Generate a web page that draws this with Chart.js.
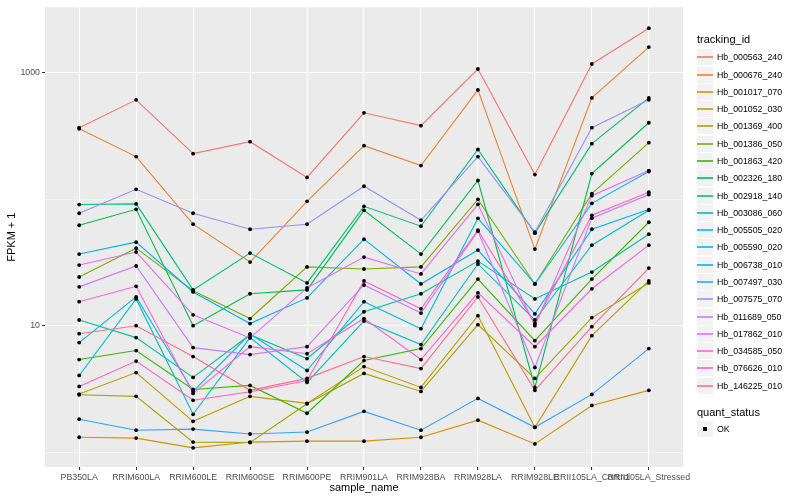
<!DOCTYPE html>
<html>
<head>
<meta charset="utf-8">
<script src="https://cdn.jsdelivr.net/npm/chart.js@4.4.0/dist/chart.umd.min.js"></script>
<style>
  html, body { margin: 0; padding: 0; background: #fff; }
  #wrap { position: relative; width: 800px; height: 500px; font-family: "Liberation Sans", Arial, sans-serif; }
  #chart1 { position: absolute; left: 0; top: 0; }
  .ttl { position: absolute; font-size: 11px; color: #000; white-space: nowrap; line-height: 12px; }
  .key { position: absolute; width: 16px; height: 16px; background: #F2F2F2; }
  .key i { position: absolute; left: 0; width: 16px; top: 7px; height: 2px; display: block; opacity: 0.8; }
  .lab { position: absolute; font-size: 8.8px; color: #000; white-space: nowrap; line-height: 10px; }
</style>
</head>
<body>
<div id="wrap">
  <canvas id="chart1" width="800" height="500"></canvas>
  <div id="legend"></div>
</div>
<script>
const samples = ["PB350LA", "RRIM600LA", "RRIM600LE", "RRIM600SE", "RRIM600PE", "RRIM901LA",
    "RRIM928BA", "RRIM928LA", "RRIM928LE", "RRII105LA_Control", "RRII105LA_Stressed"];

const trackingIds = ["Hb_000563_240", "Hb_000676_240", "Hb_001017_070", "Hb_001052_030", "Hb_001369_400",
    "Hb_001386_050", "Hb_001863_420", "Hb_002326_180", "Hb_002918_140", "Hb_003086_060",
    "Hb_005505_020", "Hb_005590_020", "Hb_006738_010", "Hb_007497_030", "Hb_007575_070",
    "Hb_011689_050", "Hb_017862_010", "Hb_034585_050", "Hb_076626_010", "Hb_146225_010"];

// FPKM + 1, one array per gene, in sample order
const hb000563 = [369, 613, 230, 286, 149, 484, 383, 1075, 157, 1178, 2262];
const hb000676 = [362, 218, 63.6, 31.9, 96.5, 266, 185, 735, 40.4, 635, 1603];
const hb001017 = [1.31, 1.29, 1.08, 1.2, 1.22, 1.22, 1.31, 1.79, 1.16, 2.34, 3.08];
const hb001052 = [2.88, 4.26, 1.75, 2.76, 2.43, 4.75, 3.25, 12.0, 1.57, 8.34, 22.6];
const hb001369 = [2.84, 2.76, 1.2, 1.19, 2.41, 4.19, 3.02, 10.2, 3.83, 11.6, 21.8];
const hb001386 = [24.3, 41.1, 18.9, 11.4, 29.2, 28.1, 29.2, 100, 21.4, 111, 281];
const hb001863 = [5.4, 6.36, 3.13, 3.37, 2.03, 5.3, 6.59, 23.4, 7.62, 23.4, 65.9];
const hb002326 = [62.4, 83.4, 10, 17.9, 19.2, 81.9, 36.9, 141, 3.25, 160, 404];
const hb002918 = [91, 92, 19.2, 37.6, 21.8, 88.1, 61.3, 248, 54, 276, 635];
const hb003086 = [11.1, 8.05, 3.9, 8.49, 5.5, 12.9, 17.9, 32.5, 16.3, 26.6, 53];
const hb005505 = [4.04, 16.3, 1.99, 8.05, 3.56, 10.9, 7.09, 30.8, 11.1, 43.4, 81.9];
const hb005590 = [7.35, 16.9, 3.02, 8.6, 4.42, 15.5, 9.47, 70.8, 21.4, 93, 166];
const hb006738 = [36.9, 45.8, 18.5, 10.4, 16.6, 48.4, 21.4, 39.7, 12.4, 58, 83];
const hb007497 = [1.82, 1.49, 1.52, 1.39, 1.44, 2.1, 1.49, 2.66, 1.57, 2.86, 6.59];
const hb007575 = [77.6, 120, 77.6, 58, 63.6, 127, 68.3, 218, 55, 369, 613];
const hb011689 = [20.3, 29.7, 6.71, 5.91, 6.83, 21, 12.6, 56, 4.67, 71, 109];
const hb017862 = [30.2, 38.3, 12.2, 8, 19.9, 34.9, 25.7, 91.4, 10, 107, 169];
const hb034585 = [15.5, 20.5, 2.91, 6.83, 6.0, 11.4, 5.4, 18.2, 6.83, 19.6, 43.4];
const hb076626 = [3.31, 5.25, 2.57, 3.0, 3.69, 22.6, 13.6, 57, 10.4, 74.8, 114];
const hb146225 = [8.65, 10, 5.7, 3.08, 3.83, 5.7, 4.58, 16.9, 3.08, 9.82, 28.6];

const yTicks = [1, 10, 100, 1000];
const yLabelled = [10, 1000];

const series = [hb000563, hb000676, hb001017, hb001052, hb001369, hb001386, hb001863, hb002326,
    hb002918, hb003086, hb005505, hb005590, hb006738, hb007497, hb007575, hb011689,
    hb017862, hb034585, hb076626, hb146225];

// ggplot default hue palette for 20 groups
const colors = ["#F8766D", "#EA8331", "#D89000", "#C09B00", "#A3A500", "#7CAE00", "#39B600", "#00BB4E",
    "#00BF7D", "#00C1A3", "#00BFC4", "#00BAE0", "#00B0F6", "#35A2FF", "#9590FF", "#C77CFF",
    "#E76BF3", "#FA62DB", "#FF62BC", "#FF6C91"];

const FONT = "'Liberation Sans', Arial, sans-serif";

const panelBg = {
    id: "panelBg",
    beforeDraw(chart) {
        const a = chart.chartArea, ctx = chart.ctx;
        ctx.save();
        ctx.fillStyle = "#EBEBEB";
        ctx.fillRect(a.left, a.top, a.right - a.left, a.bottom - a.top);
        ctx.restore();
    }
};

// black points on top of all lines, like a geom_point layer
const pointLayer = {
    id: "pointLayer",
    afterDatasetsDraw(chart) {
        const ctx = chart.ctx;
        ctx.save();
        ctx.fillStyle = "#000";
        chart.data.datasets.forEach((ds, i) => {
            chart.getDatasetMeta(i).data.forEach(p => {
                ctx.beginPath();
                ctx.arc(p.x, p.y, 1.9, 0, Math.PI * 2);
                ctx.fill();
            });
        });
        ctx.restore();
    }
};

const axisTitles = {
    id: "axisTitles",
    afterDraw(chart) {
        const a = chart.chartArea, ctx = chart.ctx;
        ctx.save();
        ctx.fillStyle = "#000";
        ctx.font = "11px " + FONT;
        ctx.textAlign = "center";
        ctx.textBaseline = "middle";
        ctx.fillText("sample_name", (a.left + a.right) / 2, 488);
        ctx.translate(12, (a.top + a.bottom) / 2);
        ctx.rotate(-Math.PI / 2);
        ctx.fillText("FPKM + 1", 0, 0);
        ctx.restore();
    }
};

const chart1 = document.getElementById("chart1");

const lineChart = new Chart(chart1, {
    type: "line",
    data: {
        datasets: series.map((vals, i) => ({
            label: trackingIds[i],
            data: vals.map((v, j) => ({ x: j, y: v })),
            borderColor: colors[i],
            backgroundColor: colors[i],
            borderWidth: 1.1,
            pointRadius: 0,
            tension: 0,
            fill: false,
            order: series.length - i
        }))
    },
    options: {
        responsive: false,
        animation: false,
        events: [],
        layout: { padding: { left: 0, right: 117, top: 5, bottom: 0 } },
        plugins: { legend: { display: false }, tooltip: { enabled: false } },
        scales: {
            x: {
                type: "linear",
                min: -0.6,
                max: samples.length - 0.4,
                afterBuildTicks: s => { s.ticks = samples.map((n, j) => ({ value: j })); },
                afterFit: s => { s.height = 33; },
                border: { display: false },
                grid: { color: "#FFFFFF", lineWidth: 1.07, tickColor: "#333333", tickLength: 3 },
                ticks: {
                    autoSkip: false, maxRotation: 0, minRotation: 0, padding: 2,
                    color: "#4D4D4D", font: { size: 8.8, family: FONT },
                    callback: v => samples[v]
                }
            },
            y: {
                type: "logarithmic",
                min: 0.762,
                max: 3311,
                afterBuildTicks: s => { s.ticks = yTicks.map(v => ({ value: v })); },
                afterFit: s => { s.width = 45; },
                border: { display: false },
                grid: {
                    color: "#FFFFFF",
                    lineWidth: c => yLabelled.includes(c.tick.value) ? 1.07 : 0.53,
                    tickColor: c => yLabelled.includes(c.tick.value) ? "#333333" : "rgba(0,0,0,0)",
                    tickLength: 3
                },
                ticks: {
                    padding: 2, color: "#4D4D4D", font: { size: 8.8, family: FONT },
                    callback: v => yLabelled.includes(v) ? String(v) : ""
                }
            }
        }
    },
    plugins: [panelBg, pointLayer, axisTitles]
});

// legend drawn as html, ggplot style
const legend = document.getElementById("legend");
function add(cls, html, left, top) {
    const d = document.createElement("div");
    d.className = cls;
    d.innerHTML = html;
    d.style.left = left + "px";
    d.style.top = Math.round(top) + "px";
    legend.appendChild(d);
    return d;
}
add("ttl", "tracking_id", 697, 33);
trackingIds.forEach((id, i) => {
    const cy = 57.3 + i * 17.28;
    add("key", '<i style="background-color:' + colors[i] + '"></i>', 697, cy - 8);
    add("lab", id, 717, cy - 5);
});
add("ttl", "quant_status", 697, 406);
add("key", '<i style="left:6px;width:4px;height:4px;top:6px;opacity:1;background-color:#000"></i>', 697, 421);
add("lab", "OK", 717, 424);
</script>
</body>
</html>
